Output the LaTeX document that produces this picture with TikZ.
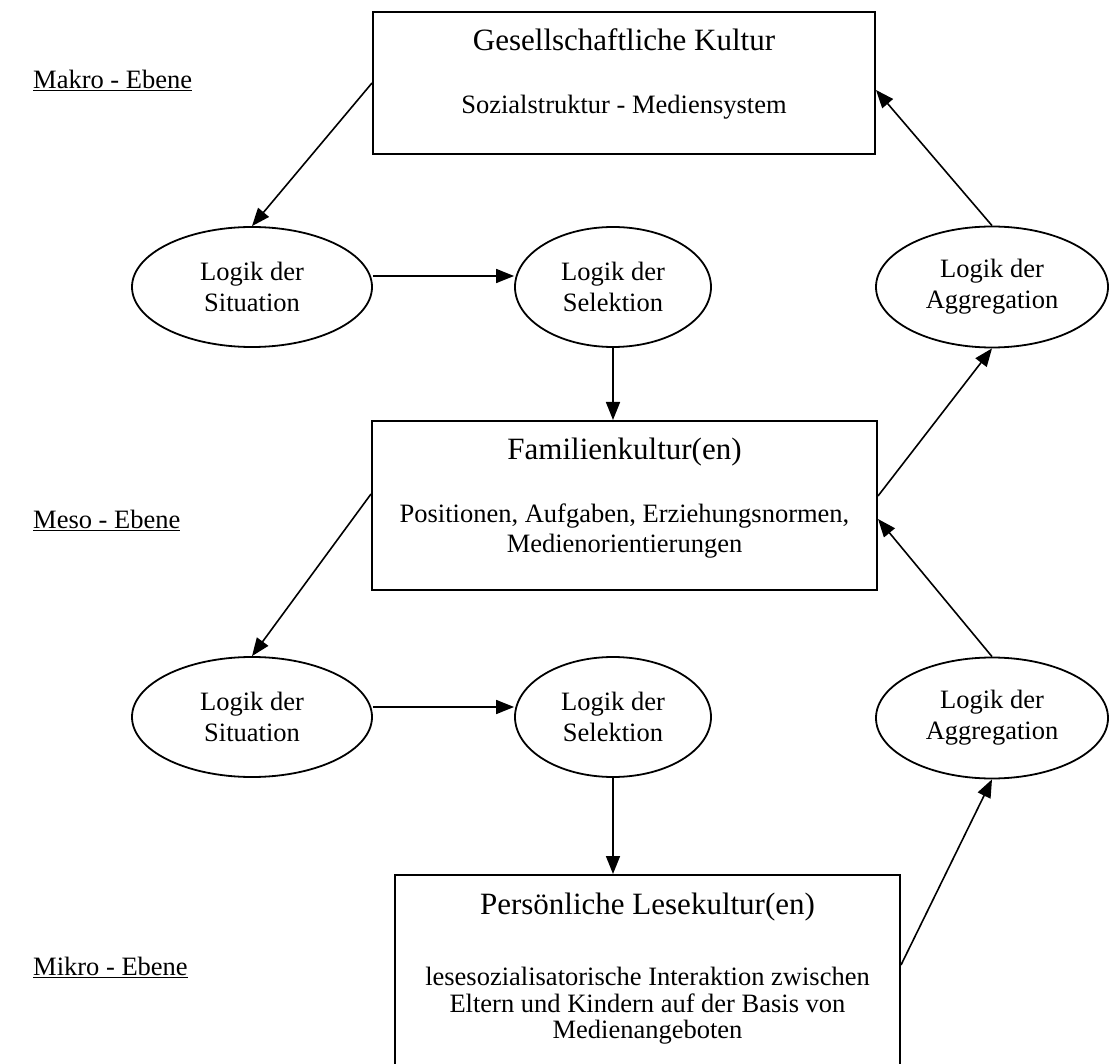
\documentclass[tikz,border=0pt]{standalone}
\usepackage{fontspec}
\setmainfont{Liberation Serif}
\usetikzlibrary{arrows.meta,shapes.geometric}
\newcommand\fsbody{\fontsize{26.5}{30}\selectfont}
\newcommand\fsell{\fontsize{26.5}{31}\selectfont}
\newcommand\fsbot{\fontsize{26.5}{26.5}\selectfont}
\newcommand\fstitle{\fontsize{31}{36}\selectfont}
\begin{document}
\begin{tikzpicture}[x=1pt,y=-1pt,
  box/.style={draw,line width=2pt,inner sep=0pt},
  ell/.style={draw,ellipse,line width=1.8pt,minimum height=120pt,inner sep=0pt,align=center,font=\fsell},
  arr/.style={line width=1.6pt,-{Triangle[length=18pt,width=14pt]}},
  lbl/.style={anchor=west,font=\fsbody,inner sep=0pt}]
\fill[white] (0,0) rectangle (1109,1064);
\clip (0,0) rectangle (1109,1064);

% boxes
\node[box,minimum width=502pt,minimum height=142pt] (top) at (624,83) {};
\node[box,minimum width=505pt,minimum height=169pt] (mid) at (624.5,505.5) {};
\node[box,minimum width=505pt,minimum height=210pt] (bot) at (647.5,980) {};

% box texts
\node[font=\fstitle] (topT) at (624,40) {Gesellschaftliche Kultur};
\node[font=\fsbody] (topS) at (624,107) {Sozialstruktur - Mediensystem};
\node[font=\fstitle] (midT) at (624.5,452) {Familienkultur(en)};
\node[font=\fsbody,align=center] (midS) at (624.5,531) {Positionen, Aufgaben, Erziehungsnormen,\\Medienorientierungen};
\node[font=\fstitle] (botT) at (647.5,907) {Persönliche Lesekultur(en)};
\node[font=\fsbot,align=center] (botS) at (647.5,1006) {lesesozialisatorische Interaktion zwischen\\Eltern und Kindern auf der Basis von\\Medienangeboten};

% ellipses
\node[ell,minimum width=240pt] (sitA) at (252,287) {Logik der\\Situation};
\node[ell,minimum width=196pt] (selA) at (613,287) {Logik der\\Selektion};
\node[ell,minimum width=232pt,minimum height=121pt] (aggA) at (992,287) {Logik der\\Aggregation};
\node[ell,minimum width=240pt] (sitB) at (252,717) {Logik der\\Situation};
\node[ell,minimum width=196pt] (selB) at (613,717) {Logik der\\Selektion};
\node[ell,minimum width=232pt,minimum height=121pt] (aggB) at (992,718) {Logik der\\Aggregation};

% level labels
\node[lbl] (makro) at (33,80) {\underline{Makro - Ebene}};
\node[lbl] (meso) at (33,520) {\underline{Meso - Ebene}};
\node[lbl] (mikro) at (33,967) {\underline{Mikro - Ebene}};

% arrows
\draw[arr] (top.west) -- (sitA.north);
\draw[arr] ([yshift=11pt]sitA.east) -- ([yshift=11pt]selA.west);
\draw[arr] (selA.south) -- (selA.south |- mid.north);
\draw[arr] (aggA.north) -- ([yshift=-7pt]top.east);
\draw[arr] ([yshift=9.5pt]mid.east) -- (aggA.south);
\draw[arr] ([yshift=11.5pt]mid.west) -- (sitB.north);
\draw[arr] ([yshift=10pt]sitB.east) -- ([yshift=10pt]selB.west);
\draw[arr] (selB.south) -- (selB.south |- bot.north);
\draw[arr] (aggB.north) -- ([yshift=-13.5pt]mid.east);
\draw[arr] ([yshift=15pt]bot.east) -- (aggB.south);
\end{tikzpicture}
\end{document}
